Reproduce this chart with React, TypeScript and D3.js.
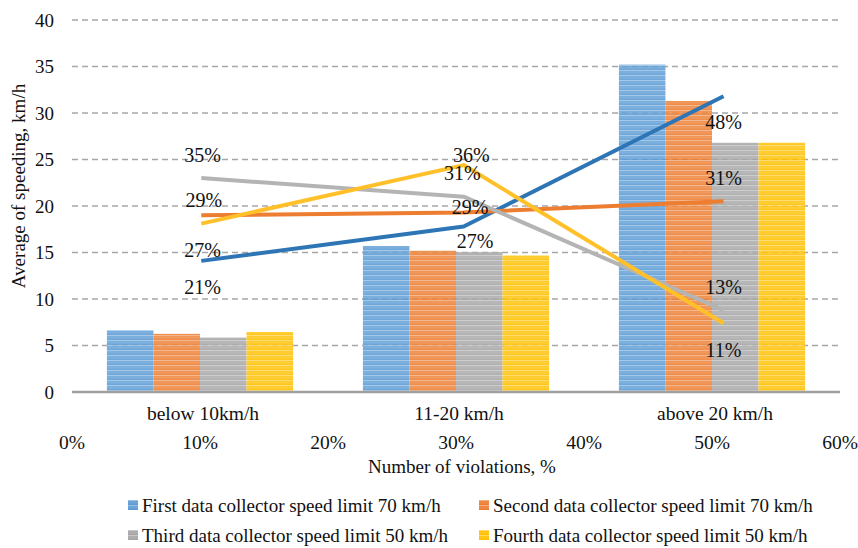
import React from "react";
import * as d3 from "d3";

const categories = ["below 10km/h", "11-20 km/h", "above 20 km/h"];
const seriesNames = [
  "First data collector speed limit 70 km/h",
  "Second data collector speed limit 70 km/h",
  "Third data collector speed limit 50 km/h",
  "Fourth data collector speed limit 50 km/h",
];
const barColors = ["#5B9BD5", "#ED7D31", "#A5A5A5", "#FFC000"];
const lineColors = ["#2E75B6", "#ED7D31", "#B4B4B4", "#FFC02A"];

// bar values (km/h) per series, one per category
const firstBars = [6.65, 15.7, 35.2];
const secondBars = [6.25, 15.2, 31.3];
const thirdBars = [5.85, 15.05, 26.8];
const fourthBars = [6.45, 14.7, 26.8];
const barValues = [firstBars, secondBars, thirdBars, fourthBars];

// line series on secondary (percentage) x axis
const lineX = [0.101, 0.306, 0.509];
const firstLine = [14.1, 17.8, 31.8];
const secondLine = [19.0, 19.3, 20.5];
const thirdLine = [23.0, 21.0, 8.8];
const fourthLine = [18.1, 24.4, 7.4];
const lineValues = [firstLine, secondLine, thirdLine, fourthLine];

// data labels: text, x (percentage axis), y (km/h axis)
const labelTexts = ["35%", "29%", "27%", "21%", "36%", "31%", "29%", "27%", "48%", "31%", "13%", "11%"];
const labelX = [0.102, 0.103, 0.102, 0.102, 0.312, 0.305, 0.311, 0.315, 0.509, 0.509, 0.509, 0.509];
const labelY = [25.5, 20.6, 15.3, 11.3, 25.5, 23.5, 19.9, 16.2, 29.0, 23.0, 11.3, 4.5];

const yTicks = [0, 5, 10, 15, 20, 25, 30, 35, 40];
const pctTicks = [0, 0.1, 0.2, 0.3, 0.4, 0.5, 0.6];

const W = 858;
const H = 548;
const left = 72;
const right = 840;
const top = 20;
const bottom = 392;
const font = "Liberation Serif";
const txt = { fontFamily: font, fill: "#111" } as React.CSSProperties;

export default function App() {
  const y = d3.scaleLinear().domain([0, 40]).range([bottom, top]);
  const xCat = d3.scaleBand<string>().domain(categories).range([left, right]).padding(0);
  const xSer = d3
    .scaleBand<string>()
    .domain(seriesNames)
    .range([0, xCat.step()])
    .paddingInner(0)
    .paddingOuter(0.75);
  const xPct = d3.scaleLinear().domain([0, 0.6]).range([left, right]);
  const line = d3
    .line<number>()
    .x((_, i) => xPct(lineX[i]))
    .y((v) => y(v));
  const fmt = d3.format(".0%");

  return (
    <svg width={W} height={H} style={{ display: "block", position: "absolute", left: 0, top: 0 }}>
      <defs>
        {barColors.map((c, i) => (
          <pattern key={i} id={`pat${i}`} width={8} height={5} patternUnits="userSpaceOnUse">
            <rect width={8} height={5} fill={c} />
            <rect y={0} width={8} height={1.2} fill="#fff" opacity={0.38} />
            <rect y={2.5} width={8} height={0.8} fill="#fff" opacity={0.2} />
          </pattern>
        ))}
      </defs>
      <rect width={W} height={H} fill="#fff" />
      {yTicks.filter((t) => t > 0).map((t) => (
        <line key={t} x1={left} x2={right} y1={y(t)} y2={y(t)} stroke="#A6A6A6" strokeWidth={1.3} strokeDasharray="6,4" />
      ))}
      {yTicks.map((t) => (
        <text key={t} x={54} y={y(t)} dy="0.35em" textAnchor="end" fontSize={19} style={txt}>
          {t}
        </text>
      ))}
      {categories.map((c, ci) =>
        seriesNames.map((s, si) => {
          const v = barValues[si][ci];
          return (
            <rect
              key={`${ci}-${si}`}
              x={(xCat(c) ?? 0) + (xSer(s) ?? 0)}
              y={y(v)}
              width={xSer.bandwidth()}
              height={y(0) - y(v)}
              fill={`url(#pat${si})`}
              opacity={0.88}
            />
          );
        })
      )}
      <line x1={left} x2={right} y1={y(0)} y2={y(0)} stroke="#A0A0A0" strokeWidth={2.5} />
      {lineValues.map((vals, i) => (
        <path key={i} d={line(vals) ?? ""} fill="none" stroke={lineColors[i]} strokeWidth={4} strokeLinejoin="round" />
      ))}
      {labelTexts.map((t, i) => (
        <text key={i} x={xPct(labelX[i])} y={y(labelY[i])} dy="0.35em" textAnchor="middle" fontSize={20} style={txt}>
          {t}
        </text>
      ))}
      {categories.map((c) => (
        <text key={c} x={(xCat(c) ?? 0) + xCat.bandwidth() / 2 + 3} y={413} dy="0.35em" textAnchor="middle" fontSize={19.5} style={txt}>
          {c}
        </text>
      ))}
      {pctTicks.map((p) => (
        <text key={p} x={xPct(p)} y={442} dy="0.35em" textAnchor="middle" fontSize={19.5} style={txt}>
          {fmt(p)}
        </text>
      ))}
      <text x={462} y={466} dy="0.35em" textAnchor="middle" fontSize={19} style={txt}>
        Number of violations, %
      </text>
      <text transform={`translate(18,186) rotate(-90)`} dy="0.35em" textAnchor="middle" fontSize={19} style={txt}>
        Average of speeding, km/h
      </text>
      {seriesNames.map((s, i) => {
        const lx = i % 2 === 0 ? 128 : 479;
        const ly = i < 2 ? 505 : 535;
        return (
          <g key={s}>
            <rect x={lx} y={ly - 5} width={10} height={10} fill={`url(#pat${i})`} />
            <text x={lx + 14} y={ly} dy="0.35em" fontSize={19} style={txt}>
              {s}
            </text>
          </g>
        );
      })}
    </svg>
  );
}
